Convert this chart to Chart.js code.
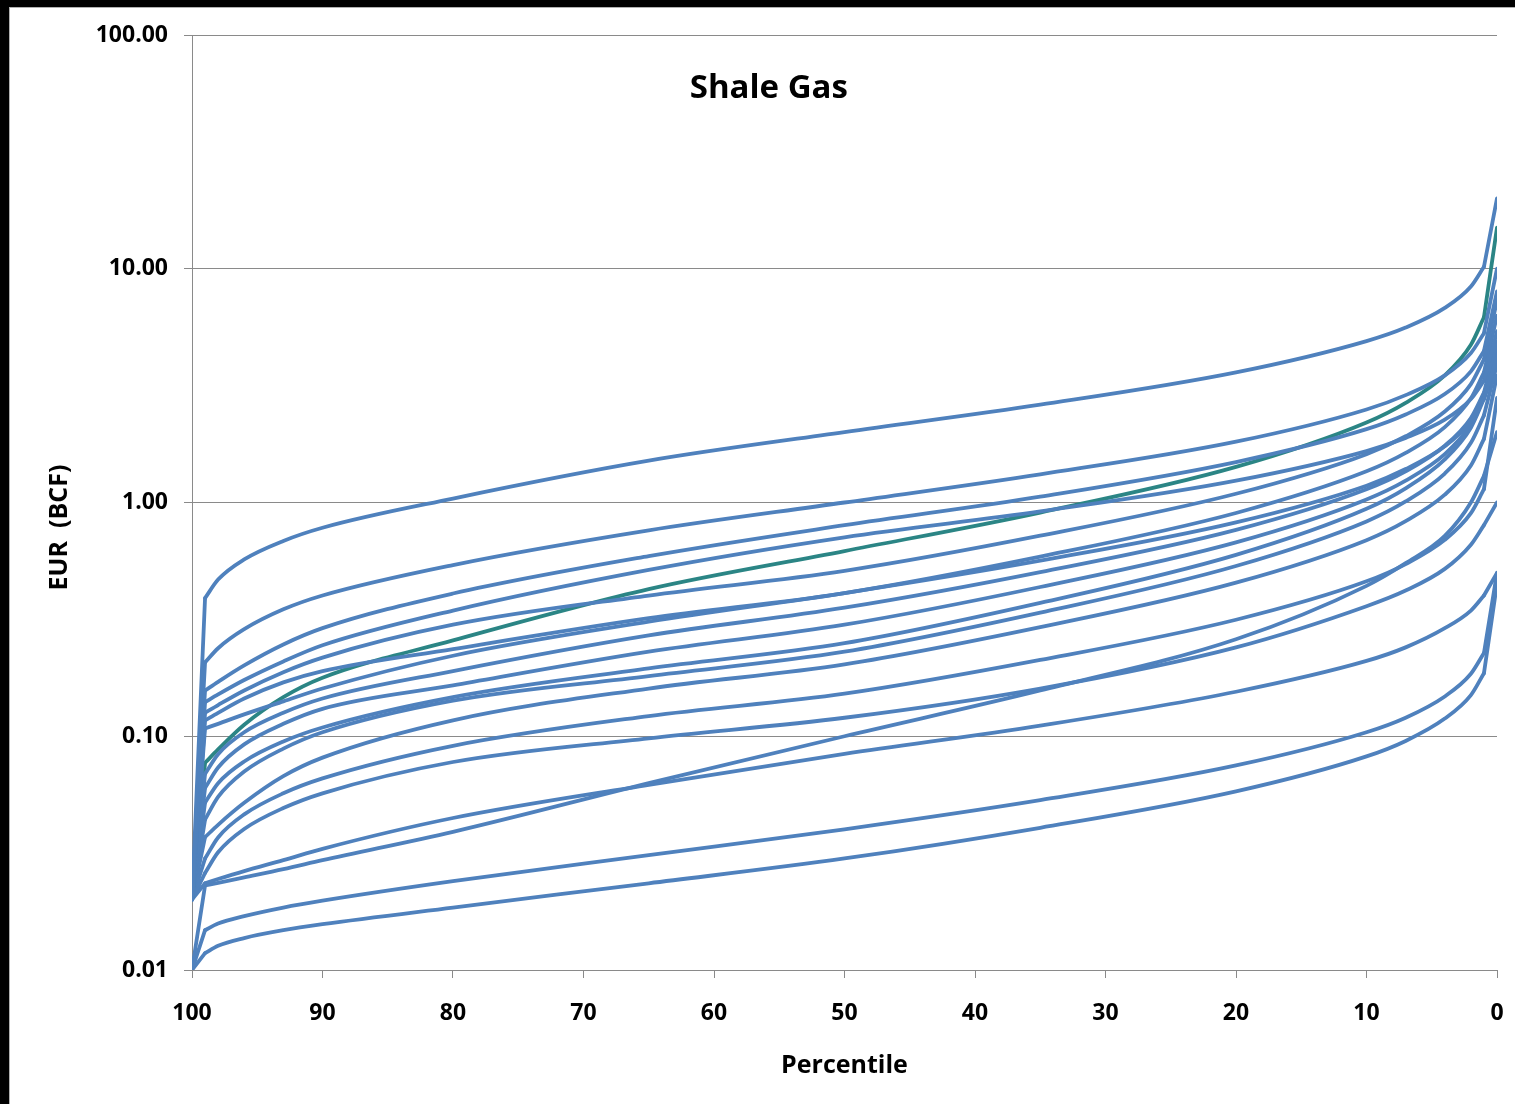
<!DOCTYPE html>
<html>
<head>
<meta charset="utf-8">
<script src="https://cdn.jsdelivr.net/npm/chart.js@4/dist/chart.umd.min.js"></script>
<style>
  html, body { margin: 0; padding: 0; background: #000; width: 1515px; height: 1104px; overflow: hidden; }
  #frame { position: absolute; left: 9px; top: 7px; width: 1506px; height: 1097px; background: #fff;
           border-left: 1px solid #b0b0b0; border-top: 1px solid #b0b0b0; box-sizing: border-box; }
  #wrap { position: absolute; left: 0; top: 0; width: 1515px; height: 1104px; }
</style>
</head>
<body>
<div id="frame"></div>
<div id="wrap"><canvas id="c" width="1515" height="1104"></canvas></div>
<script>
// Percentile (exceedance) positions at which values were read
const percentiles = [100, 99, 98, 96, 93, 90, 80, 65, 50, 35, 20, 10, 7, 4, 2, 1, 0];
const xTickValues = [100, 90, 80, 70, 60, 50, 40, 30, 20, 10, 0];
const yTickValues = [0.01, 0.1, 1, 10, 100];

const chartTitle = 'Shale Gas';
const xAxisTitle = 'Percentile';
const yAxisTitle = 'EUR  (BCF)';

// EUR (BCF) read at each percentile above
const play01 = [0.02, 0.39, 0.468, 0.571, 0.685, 0.78, 1.04, 1.51, 2.0, 2.62, 3.6, 4.9, 5.6, 6.8, 8.4, 10.2, 20];
const play02 = [0.02, 0.207, 0.238, 0.287, 0.349, 0.40, 0.54, 0.76, 1.0, 1.32, 1.82, 2.5, 2.88, 3.5, 4.36, 5.3, 10];
const play03 = [0.02, 0.157, 0.171, 0.201, 0.247, 0.29, 0.408, 0.59, 0.80, 1.06, 1.49, 2.06, 2.38, 2.91, 3.64, 4.45, 8];
const play04 = [0.02, 0.14, 0.151, 0.174, 0.209, 0.245, 0.345, 0.515, 0.71, 0.916, 1.24, 1.66, 1.89, 2.26, 2.77, 3.32, 5.4];
const play05 = [0.02, 0.126, 0.136, 0.157, 0.188, 0.217, 0.30, 0.40, 0.51, 0.721, 1.09, 1.61, 1.92, 2.45, 3.21, 4.1, 7.3];
const play06 = [0.02, 0.117, 0.126, 0.145, 0.170, 0.19, 0.236, 0.32, 0.41, 0.587, 0.902, 1.36, 1.63, 2.10, 2.79, 3.6, 6.3];
const play07 = [0.02, 0.108, 0.113, 0.124, 0.141, 0.16, 0.221, 0.309, 0.41, 0.564, 0.822, 1.18, 1.39, 1.74, 2.23, 2.8, 4.2];
const play08 = [0.02, 0.069, 0.0838, 0.104, 0.126, 0.145, 0.19, 0.27, 0.355, 0.504, 0.764, 1.14, 1.36, 1.75, 2.30, 2.95, 4.9];
const play09 = [0.02, 0.060, 0.0735, 0.0923, 0.113, 0.131, 0.165, 0.23, 0.30, 0.435, 0.675, 1.03, 1.24, 1.61, 2.16, 2.8, 4.5];
const playTeal = [0.02, 0.077, 0.0878, 0.112, 0.147, 0.178, 0.257, 0.426, 0.62, 0.906, 1.42, 2.2, 2.67, 3.5, 4.73, 6.2, 15];
const play10 = [0.02, 0.052, 0.063, 0.078, 0.095, 0.109, 0.147, 0.195, 0.25, 0.372, 0.597, 0.94, 1.15, 1.53, 2.09, 2.77, 4.0];
const play11 = [0.02, 0.044, 0.055, 0.0706, 0.0885, 0.104, 0.142, 0.181, 0.23, 0.338, 0.535, 0.83, 1.01, 1.33, 1.80, 2.36, 3.9];
const play12 = [0.02, 0.037, 0.0418, 0.0519, 0.0675, 0.081, 0.117, 0.16, 0.203, 0.293, 0.454, 0.69, 0.832, 1.08, 1.44, 1.87, 3.5];
const play13 = [0.02, 0.030, 0.0369, 0.0463, 0.057, 0.066, 0.091, 0.122, 0.152, 0.212, 0.315, 0.46, 0.545, 0.692, 0.90, 1.14, 2.8];
const play14 = [0.02, 0.026, 0.0319, 0.0401, 0.0493, 0.057, 0.0776, 0.098, 0.12, 0.16, 0.24, 0.36, 0.42, 0.52, 0.66, 0.80, 1.0];
const play15 = [0.02, 0.0235, 0.0245, 0.0265, 0.0295, 0.033, 0.0447, 0.062, 0.084, 0.111, 0.155, 0.21, 0.24, 0.29, 0.345, 0.40, 0.5];
const play16 = [0.01, 0.023, 0.0236, 0.0249, 0.027, 0.0295, 0.039, 0.063, 0.10, 0.157, 0.26, 0.44, 0.55, 0.72, 1.0, 1.3, 2.0];
const play17 = [0.01, 0.0148, 0.0158, 0.0170, 0.0185, 0.0198, 0.0240, 0.031, 0.040, 0.0533, 0.075, 0.104, 0.120, 0.148, 0.185, 0.227, 0.5];
const play18 = [0.01, 0.0118, 0.0127, 0.0137, 0.0148, 0.0157, 0.0185, 0.0235, 0.030, 0.0406, 0.0581, 0.082, 0.0955, 0.119, 0.150, 0.186, 0.45];

const seriesList = [play01, play02, play03, play04, play05, play06, play07, play08, play09,
                    playTeal, play10, play11, play12, play13, play14, play15, play16, play17, play18];
const BLUE = '#4f81bd';
const TEAL = '#2b8585';

// Each curve: straight drop to P100, smooth body from P99 to P1, straight rise to P0
const datasets = [];
seriesList.forEach(vals => {
  const color = vals === playTeal ? TEAL : BLUE;
  const pts = vals.map((v, j) => ({ x: percentiles[j], y: v }));
  const n = pts.length;
  const pieces = [
    { data: pts.slice(0, 2), mode: 'default', tension: 0 },
    { data: pts.slice(1, n - 1), mode: 'monotone', tension: 0.4 },
    { data: pts.slice(n - 2), mode: 'default', tension: 0 }
  ];
  pieces.forEach(p => datasets.push({
    data: p.data,
    borderColor: color,
    backgroundColor: color,
    borderWidth: 3.8,
    pointRadius: 0,
    fill: false,
    cubicInterpolationMode: p.mode,
    tension: p.tension,
    borderCapStyle: 'round',
    borderJoinStyle: 'round'
  }));
});

const FONT = "'Open Sans', 'Liberation Sans', sans-serif";
const GRID = '#8a8a8a';

const overlayText = {
  id: 'overlayText',
  afterDraw(chart) {
    const { ctx, chartArea: a } = chart;
    ctx.save();
    ctx.fillStyle = '#000';
    ctx.textAlign = 'center';
    ctx.textBaseline = 'middle';
    ctx.font = `bold 33px ${FONT}`;
    ctx.fillText(chartTitle, a.left + (a.right - a.left) * 0.442, a.top + 54);
    ctx.translate(a.left - 132, (a.top + a.bottom) / 2 + 25);
    ctx.rotate(-Math.PI / 2);
    ctx.font = `bold 25px ${FONT}`;
    ctx.fillText(yAxisTitle, 0, 0);
    ctx.restore();
  }
};

new Chart(document.getElementById('c'), {
  type: 'line',
  data: { datasets },
  plugins: [overlayText],
  options: {
    responsive: false,
    animation: false,
    devicePixelRatio: 1,
    layout: { padding: { top: 35, right: 18, left: 0, bottom: 0 } },
    plugins: { legend: { display: false }, tooltip: { enabled: false } },
    scales: {
      x: {
        type: 'linear',
        reverse: true,
        min: 0,
        max: 100,
        afterFit(s) { s.height = 134; s.paddingLeft = 0; s.paddingRight = 0; },
        afterBuildTicks(s) { s.ticks = xTickValues.map(v => ({ value: v })); },
        ticks: { font: { family: FONT, weight: 'bold', size: 23 }, color: '#000', padding: 22,
                 maxRotation: 0, autoSkip: false },
        grid: { drawOnChartArea: false, drawTicks: true, tickLength: 8, color: GRID, lineWidth: 1 },
        border: { color: GRID, width: 1 },
        title: { display: true, text: xAxisTitle, color: '#000',
                 font: { family: FONT, weight: 'bold', size: 25 }, padding: { top: 0, bottom: 23 } }
      },
      y: {
        type: 'logarithmic',
        min: 0.01,
        max: 100,
        afterFit(s) { s.width = 192; s.paddingTop = 0; s.paddingBottom = 0; },
        afterBuildTicks(s) { s.ticks = yTickValues.map(v => ({ value: v, major: true })); },
        ticks: { font: { family: FONT, weight: 'bold', size: 23 }, color: '#000', padding: 16,
                 callback: v => Number(v).toFixed(2), autoSkip: false },
        grid: { color: GRID, lineWidth: 1, drawTicks: true, tickLength: 8 },
        border: { color: GRID, width: 1 }
      }
    }
  }
});
</script>
</body>
</html>
